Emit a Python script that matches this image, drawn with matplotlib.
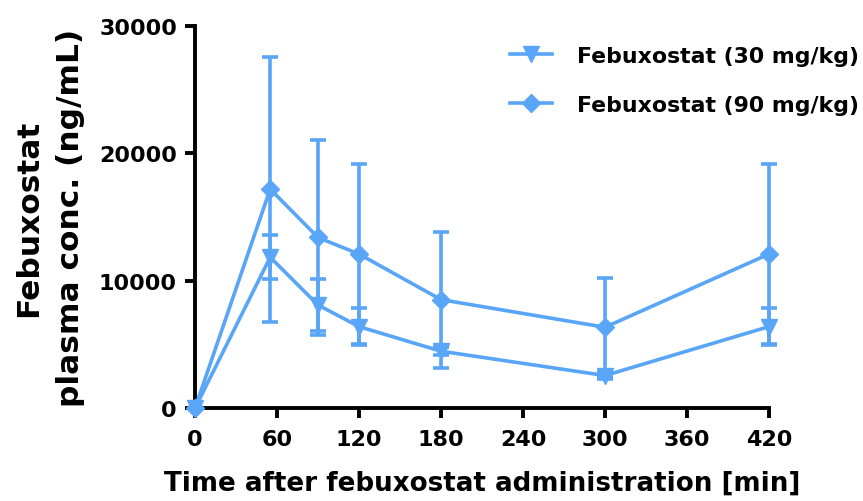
#!/usr/bin/env python3
# Febuxostat plasma concentration vs time (two doses), GraphPad-like styling.

import matplotlib

matplotlib.use("Agg")
import matplotlib.pyplot as plt

TIME = [0, 55, 90, 120, 180, 300, 420]
CONC_30 = [0, 11850, 8100, 6400, 4470, 2560, 6400]
SD_30 = [0, 1720, 2050, 1440, 300, 300, 1440]
CONC_90 = [0, 17200, 13400, 12100, 8520, 6350, 12100]
SD_90 = [0, 10400, 7650, 7060, 5330, 3870, 7060]
LABELS = ["Febuxostat (30 mg/kg)", "Febuxostat (90 mg/kg)"]
XTICKS = [0, 60, 120, 180, 240, 300, 360, 420]
YTICKS = [0, 10000, 20000, 30000]

BLUE = "#59A5F8"

plt.rcParams["font.family"] = ["DejaVu Sans"]
plt.rcParams["font.weight"] = "bold"

fig = plt.figure(figsize=(8.63, 5.02), dpi=100)
ax = fig.add_axes([0.226, 0.185, 0.665, 0.761])

series = [
    (CONC_30, SD_30, "v", 11),
    (CONC_90, SD_90, "D", 9.5),
]
handles = []
for (y, sd, mk, ms), lab in zip(series, LABELS):
    # skip the t=0 point for error bars (SD is zero there)
    eb = ax.errorbar(TIME[1:], y[1:], yerr=sd[1:], fmt="none", ecolor=BLUE,
                     elinewidth=2.6, capsize=5.5, capthick=2.6, zorder=2)
    for art in eb.get_children():
        art.set_clip_on(False)
    h, = ax.plot(TIME, y, color=BLUE, linewidth=2.6, marker=mk,
                 markersize=ms, label=lab, clip_on=False, zorder=3)
    handles.append(h)

ax.set_xlim(0, 420)
ax.set_ylim(0, 30000)
ax.set_xticks(XTICKS)
ax.set_yticks(YTICKS)
ax.spines["top"].set_visible(False)
ax.spines["right"].set_visible(False)
for s in ("left", "bottom"):
    ax.spines[s].set_linewidth(2.8)
ax.tick_params(axis="both", direction="out", length=7, width=2.8,
               labelsize=16)
ax.tick_params(axis="x", pad=8)
ax.tick_params(axis="y", pad=6)
for t in ax.get_xticklabels() + ax.get_yticklabels():
    t.set_fontweight("bold")

ax.set_xlabel("Time after febuxostat administration [min]", fontsize=18.8,
              fontweight="bold", labelpad=15)
ax.set_ylabel("Febuxostat\nplasma conc. (ng/mL)", fontsize=22.5,
              fontweight="bold", labelpad=10, linespacing=1.55)

leg = fig.legend(handles=handles, loc="upper left",
                 bbox_to_anchor=(510 / 863, 1 - 47 / 502),
                 bbox_transform=fig.transFigure, frameon=False,
                 fontsize=15.8, handlelength=1.9, handletextpad=1.15,
                 labelspacing=1.3, borderpad=0, borderaxespad=0)
for t in leg.get_texts():
    t.set_fontweight("bold")

fig.savefig("out.png", dpi=100, facecolor="white")
